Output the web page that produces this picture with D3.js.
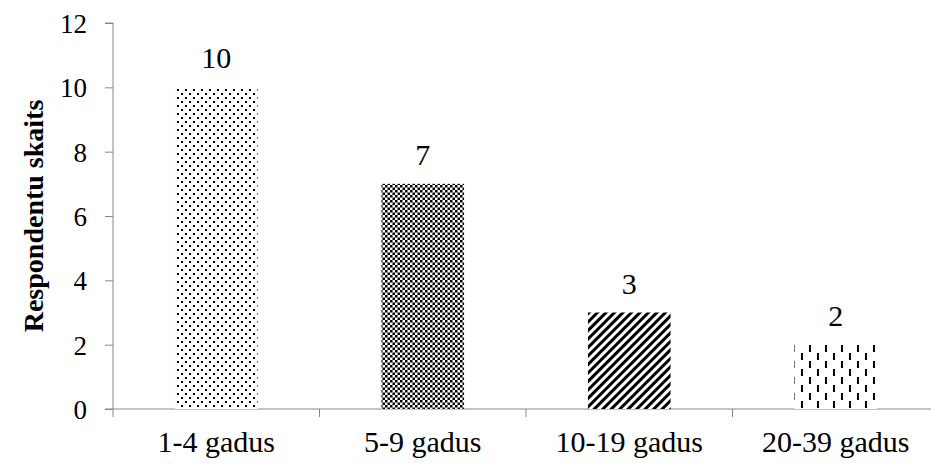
<!DOCTYPE html>
<html>
<head>
<meta charset="utf-8">
<script src="https://d3js.org/d3.v7.min.js"></script>
<style>
body{margin:0;background:#fff;}
svg{display:block;}
text{font-family:"Liberation Serif","Times New Roman",serif;fill:#000;}
</style>
</head>
<body>
<svg id="chart" width="931" height="465"></svg>
<script>
const categories = ["1-4 gadus","5-9 gadus","10-19 gadus","20-39 gadus"];
const values = [10,7,3,2];
const patterns = ["dots","checker","diag","dashes"];
const yTicks = [0,2,4,6,8,10,12];
const yTitle = "Respondentu skaits";

const svg = d3.select("#chart");
const defs = svg.append("defs");

// dots
let p = defs.append("pattern").attr("id","dots").attr("patternUnits","userSpaceOnUse").attr("width",8).attr("height",8);
p.append("rect").attr("width",8).attr("height",8).attr("fill","#fff");
p.append("rect").attr("x",1).attr("y",1).attr("width",2).attr("height",2).attr("fill","#000");
p.append("rect").attr("x",5).attr("y",5).attr("width",2).attr("height",2).attr("fill","#000");
// checker
p = defs.append("pattern").attr("id","checker").attr("patternUnits","userSpaceOnUse").attr("width",5).attr("height",5);
p.append("rect").attr("width",5).attr("height",5).attr("fill","#fff");
p.append("rect").attr("width",2.5).attr("height",2.5).attr("fill","#000");
p.append("rect").attr("x",2.5).attr("y",2.5).attr("width",2.5).attr("height",2.5).attr("fill","#000");
// diagonal
p = defs.append("pattern").attr("id","diag").attr("patternUnits","userSpaceOnUse").attr("width",6).attr("height",6)
  .attr("patternTransform","rotate(45)");
p.append("rect").attr("width",6).attr("height",6).attr("fill","#fff");
p.append("rect").attr("width",3).attr("height",6).attr("fill","#000");
// dashes
p = defs.append("pattern").attr("id","dashes").attr("patternUnits","userSpaceOnUse").attr("width",16).attr("height",16);
p.append("rect").attr("width",16).attr("height",16).attr("fill","#fff");
p.append("rect").attr("x",1).attr("y",1).attr("width",2).attr("height",7).attr("fill","#000");
p.append("rect").attr("x",9).attr("y",9).attr("width",2).attr("height",7).attr("fill","#000");

const x = d3.scaleBand().domain(categories).range([113,939]).paddingInner(0.6).paddingOuter(0.3);
const y = d3.scaleLinear().domain([0,12]).range([409,23]);

// y axis
const yAxis = svg.append("g").attr("transform","translate(113,0)")
  .call(d3.axisLeft(y).tickValues(yTicks).tickSize(8).tickPadding(18).tickFormat(d3.format("d")));
yAxis.select(".domain").attr("stroke","#888").attr("d","M-8,23H0V409");
yAxis.selectAll(".tick line").attr("stroke","#888");
yAxis.selectAll(".tick text").style("font-size","27px").style("font-family","'Liberation Serif',serif").attr("fill","#000").attr("dy","0.35em");

// x axis line & ticks
const step = x.step();
const xStart = x.range()[0];
const g = svg.append("g");
g.append("line").attr("x1",105).attr("x2",940).attr("y1",409).attr("y2",409).attr("stroke","#888");
d3.range(0,5).forEach(i=>{
  const xx = xStart + i*step;
  g.append("line").attr("x1",xx).attr("x2",xx).attr("y1",409).attr("y2",417).attr("stroke","#888");
});

// bars
svg.append("g").selectAll("rect").data(values).join("rect")
  .attr("x",(d,i)=>x(categories[i]))
  .attr("y",d=>y(d))
  .attr("width",x.bandwidth())
  .attr("height",d=>y(0)-y(d))
  .attr("fill",(d,i)=>`url(#${patterns[i]})`);

// value labels
svg.append("g").selectAll("text").data(values).join("text")
  .attr("x",(d,i)=>x(categories[i])+x.bandwidth()/2)
  .attr("y",d=>y(d)-19)
  .attr("text-anchor","middle")
  .style("font-size","30px")
  .text(d=>d);

// category labels
svg.append("g").selectAll("text").data(categories).join("text")
  .attr("x",d=>x(d)+x.bandwidth()/2)
  .attr("y",452)
  .attr("text-anchor","middle")
  .style("font-size","30px")
  .text(d=>d);

// y title
svg.append("text")
  .attr("transform","translate(43,216) rotate(-90)")
  .attr("text-anchor","middle")
  .style("font-size","28px")
  .style("font-weight","bold")
  .text(yTitle);
</script>
</body>
</html>
